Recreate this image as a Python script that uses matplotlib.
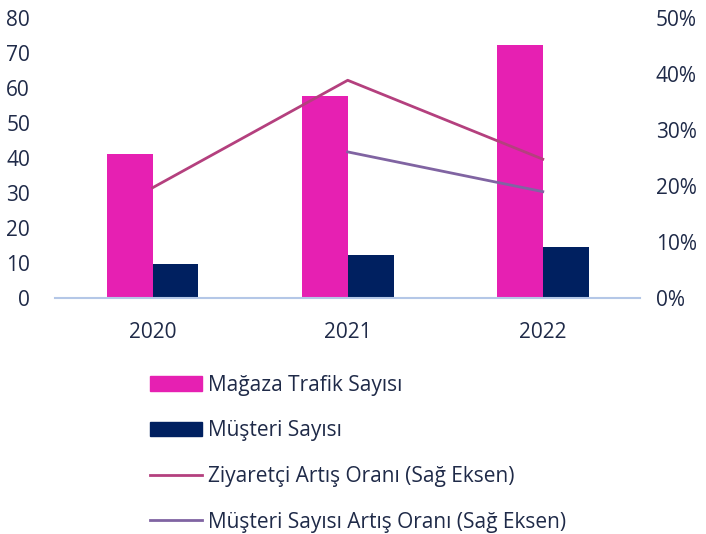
import matplotlib
matplotlib.use("Agg")
import matplotlib.pyplot as plt
import numpy as np
from matplotlib.patches import Patch
from matplotlib.lines import Line2D

years = ["2020", "2021", "2022"]
magaza_trafik = [41.3, 57.8, 72.3]
musteri_sayisi = [9.6, 12.2, 14.7]
ziyaretci_artis = [19.7, 38.9, 24.8]
musteri_artis = [np.nan, 26.1, 19.0]
left_ticks = [0, 10, 20, 30, 40, 50, 60, 70, 80]
right_ticks = [0, 10, 20, 30, 40, 50]

labels = ["Mağaza Trafik Sayısı", "Müşteri Sayısı",
          "Ziyaretçi Artış Oranı (Sağ Eksen)", "Müşteri Sayısı Artış Oranı (Sağ Eksen)"]

pink = "#E620B2"
navy = "#002060"
line1 = "#B4407E"
line2 = "#8064A2"
txt = "#1F2A48"

plt.rcParams['font.family'] = ['Open Sans', 'DejaVu Sans']

fig = plt.figure(figsize=(7.06, 5.34), dpi=100)
ax = fig.add_axes([0.078, 0.442, 0.829, 0.524])
ax2 = ax.twinx()

x = np.arange(len(years))
w = 0.235
ax.bar(x - w/2, magaza_trafik, width=w, color=pink, zorder=2)
ax.bar(x + w/2, musteri_sayisi, width=w, color=navy, zorder=2)
ax2.plot(x, ziyaretci_artis, color=line1, lw=2.0)
ax2.plot(x, musteri_artis, color=line2, lw=2.0)

ax.set_xlim(-0.5, 2.5)
ax.set_ylim(0, 80)
ax2.set_ylim(0, 50)
ax.set_yticks(left_ticks)
ax2.set_yticks(right_ticks)
ax2.set_yticklabels([f"{t}%" for t in right_ticks])
ax.set_xticks(x)
ax.set_xticklabels(years)

for a in (ax, ax2):
    for s in a.spines.values():
        s.set_visible(False)
    a.tick_params(length=0, labelsize=15, colors=txt)
ax.spines['bottom'].set_visible(True)
ax.spines['bottom'].set_color("#B4C7E7")
ax.spines['bottom'].set_linewidth(1.5)
ax.tick_params(axis='y', pad=18)
ax.tick_params(axis='x', pad=17)
ax2.tick_params(axis='y', pad=11)

handles = [Patch(color=pink), Patch(color=navy),
           Line2D([], [], color=line1, lw=2.0), Line2D([], [], color=line2, lw=2.0)]
leg = fig.legend(handles, labels, loc='upper left', bbox_to_anchor=(0.212, 0.298),
                 frameon=False, fontsize=15, handlelength=2.5, handletextpad=0.3,
                 labelspacing=1.18, borderaxespad=0, borderpad=0)
for t in leg.get_texts():
    t.set_color(txt)

fig.savefig("out.png", dpi=100)
